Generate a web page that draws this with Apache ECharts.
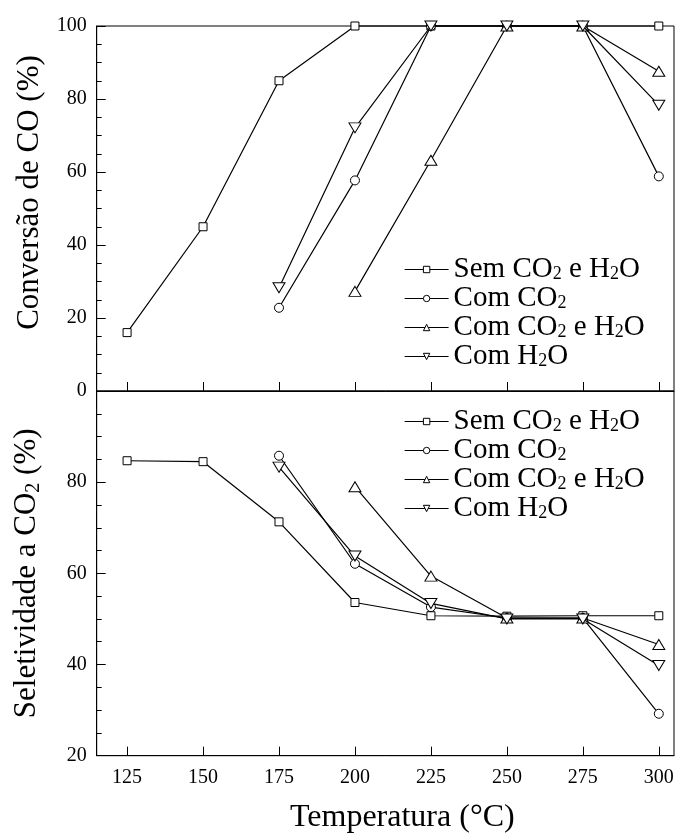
<!DOCTYPE html>
<html>
<head>
<meta charset="utf-8">
<script src="https://cdn.jsdelivr.net/npm/echarts@6/dist/echarts.min.js"></script>
<style>
  html, body { margin: 0; padding: 0; background: #fff; }
  #chart { width: 679px; height: 839px; }
</style>
</head>
<body>
<div id="chart"></div>
<script>
// Reaction temperatures (°C) and the tick positions on the temperature axis
const temperatures = [125, 150, 175, 200, 225, 250, 275, 300];
const temperatureTicks = [125, 150, 175, 200, 225, 250, 275, 300];

// Feed conditions
const seriesNames = ['Sem CO2 e H2O', 'Com CO2', 'Com CO2 e H2O', 'Com H2O'];

// CO conversion (%)
const conversionSem = [16, 45, 85, 100, 100, 100, 100, 100];
const conversionCO2 = [null, null, 22.8, 57.7, 100, 100, 100, 58.8];
const conversionCO2H2O = [null, null, null, 27.3, 63.2, 100, 100, 87.6];
const conversionH2O = [null, null, 28.3, 72.1, 100, 100, 100, 78.3];

// CO2 selectivity (%)
const selectivitySem = [84.7, 84.5, 71.3, 53.6, 50.7, 50.6, 50.7, 50.7];
const selectivityCO2 = [null, null, 85.8, 62.1, 52.6, 50.2, 50.2, 29.2];
const selectivityCO2H2O = [null, null, null, 79.0, 59.4, 50.2, 50.2, 44.4];
const selectivityH2O = [null, null, 83.3, 63.8, 53.4, 50.0, 50.0, 39.8];

const FONT = 'Liberation Serif';
const INK = '#000';

const markers = [
  { symbol: 'rect', size: 8, rotate: 0 },
  { symbol: 'circle', size: 9, rotate: 0 },
  { symbol: 'triangle', size: [12, 10], rotate: 0 },
  { symbol: 'triangle', size: [12, 10], rotate: 180 }
];

function pairs(values) {
  const out = [];
  values.forEach((v, i) => { if (v !== null) out.push([temperatures[i], v]); });
  return out;
}

// "CO2" -> CO with a subscript 2
function subscripted(text, main, sub) {
  return text.split(/(2)/).filter(s => s.length).map(s => s === '2' ? '{' + sub + '|2}' : '{' + main + '|' + s + '}').join('');
}

function makeSeries(name, values, idx, gridIdx) {
  const m = markers[idx];
  return {
    type: 'line',
    name: name,
    xAxisIndex: gridIdx,
    yAxisIndex: gridIdx,
    data: pairs(values),
    symbol: m.symbol,
    symbolSize: m.size,
    symbolRotate: m.rotate,
    showAllSymbol: true,
    clip: false,
    lineStyle: { color: INK, width: 1.2 },
    itemStyle: { color: '#fff', borderColor: INK, borderWidth: 1 },
    emphasis: { disabled: true },
    animation: false,
    z: 3 + idx
  };
}

const legendRich = {
  a: { fontFamily: FONT, fontSize: 29, lineHeight: 28, color: INK },
  s: { fontFamily: FONT, fontSize: 18, lineHeight: 8, verticalAlign: 'bottom', color: INK }
};

function legendAt(top) {
  return {
    orient: 'vertical',
    left: 404,
    top: top,
    padding: 0,
    itemWidth: 44,
    itemHeight: 8,
    itemGap: 0,
    selectedMode: false,
    data: seriesNames,
    formatter: name => subscripted(name, 'a', 's'),
    itemStyle: { color: '#fff', borderColor: INK, borderWidth: 1 },
    lineStyle: { color: INK, width: 1.2 },
    textStyle: { rich: legendRich }
  };
}

function yAxis(gridIdx, min, name, rich, gap, pad, showMax) {
  return {
    gridIndex: gridIdx,
    type: 'value',
    min: min,
    max: 100,
    interval: 20,
    axisLine: { show: true, lineStyle: { color: INK, width: 1 } },
    axisTick: { show: true, inside: true, length: 9, lineStyle: { color: INK } },
    minorTick: { show: true, splitNumber: 4, length: 5, lineStyle: { color: INK } },
    splitLine: { show: false },
    axisLabel: { color: INK, fontFamily: FONT, fontSize: 20, margin: 10, showMaxLabel: showMax },
    name: name,
    nameLocation: 'middle',
    nameRotate: 90,
    nameGap: gap,
    nameTextStyle: { color: INK, fontFamily: FONT, fontSize: 31, padding: pad, rich: rich }
  };
}

function xAxis(gridIdx, withLabels) {
  const ax = {
    gridIndex: gridIdx,
    type: 'value',
    min: 115,
    max: 305,
    axisLine: { show: true, onZero: false, lineStyle: { color: INK, width: 1 } },
    axisTick: { show: true, inside: true, length: 9, customValues: temperatureTicks, lineStyle: { color: INK } },
    splitLine: { show: false },
    axisLabel: { show: withLabels, customValues: temperatureTicks, color: INK, fontFamily: FONT, fontSize: 20, margin: 12 }
  };
  if (withLabels) {
    ax.name = 'Temperatura (°C)';
    ax.nameLocation = 'middle';
    ax.nameGap = 46;
    ax.nameTextStyle = { color: INK, fontFamily: FONT, fontSize: 32, padding: [0, 0, 0, 34] };
  }
  return ax;
}

const chart = echarts.init(document.getElementById('chart'), null, { renderer: 'canvas' });

chart.setOption({
  animation: false,
  backgroundColor: '#fff',
  grid: [
    { left: 96.7, top: 26, right: 5, height: 365, show: true, borderColor: INK, borderWidth: 1, backgroundColor: 'transparent' },
    { left: 96.7, top: 391, right: 5, height: 364.7, show: true, borderColor: INK, borderWidth: 1, backgroundColor: 'transparent' }
  ],
  xAxis: [xAxis(0, false), xAxis(1, true)],
  yAxis: [
    yAxis(0, 0, 'Conversão de CO (%)', null, 42, [0, 0, 0, 32], true),
    yAxis(1, 20, subscripted('Seletividade a CO2 (%)', 'a', 's'), {
      a: { fontFamily: FONT, fontSize: 31, lineHeight: 34, color: INK },
      s: { fontFamily: FONT, fontSize: 20, lineHeight: 10, verticalAlign: 'bottom', color: INK }
    }, 53, 0, false)
  ],
  legend: [legendAt(255), legendAt(407)],
  series: [
    makeSeries(seriesNames[0], conversionSem, 0, 0),
    makeSeries(seriesNames[1], conversionCO2, 1, 0),
    makeSeries(seriesNames[2], conversionCO2H2O, 2, 0),
    makeSeries(seriesNames[3], conversionH2O, 3, 0),
    makeSeries(seriesNames[0], selectivitySem, 0, 1),
    makeSeries(seriesNames[1], selectivityCO2, 1, 1),
    makeSeries(seriesNames[2], selectivityCO2H2O, 2, 1),
    makeSeries(seriesNames[3], selectivityH2O, 3, 1)
  ]
});
</script>
</body>
</html>
